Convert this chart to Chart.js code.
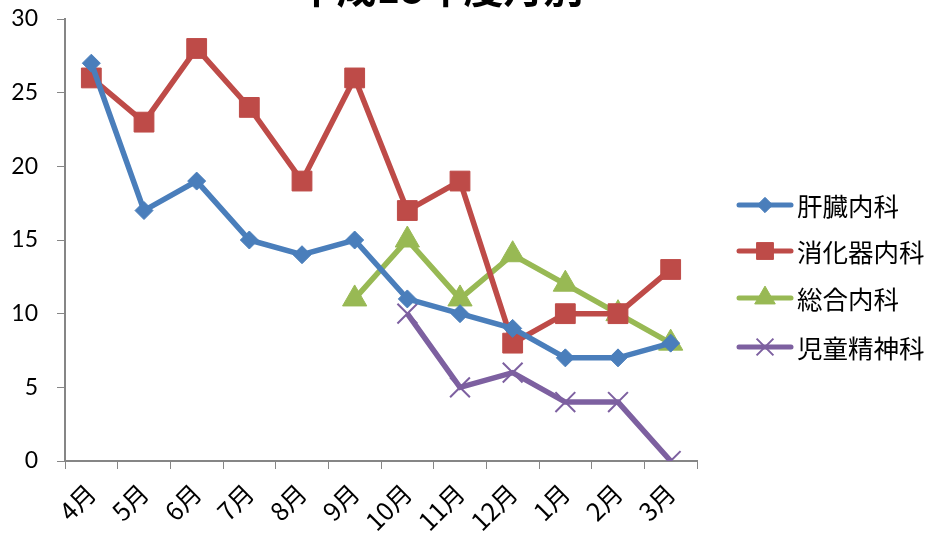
<!DOCTYPE html>
<html>
<head>
<meta charset="utf-8">
<script src="https://cdn.jsdelivr.net/npm/chart.js@4/dist/chart.umd.min.js"></script>
<style>
  html, body { margin: 0; padding: 0; background: #fff; }
  #chart { display: block; }
</style>
</head>
<body>
<canvas id="chart" width="931" height="535"></canvas>
<script>
// data
const months = ['4月', '5月', '6月', '7月', '8月', '9月', '10月', '11月', '12月', '1月', '2月', '3月'];
const liver = [27, 17, 19, 15, 14, 15, 11, 10, 9, 7, 7, 8];
const gastro = [26, 23, 28, 24, 19, 26, 17, 19, 8, 10, 10, 13];
const general = [null, null, null, null, null, 11, 15, 11, 14, 12, 10, 8];
const childPsych = [null, null, null, null, null, null, 10, 5, 6, 4, 4, 0];
const yTicks = [0, 5, 10, 15, 20, 25, 30];
const chartTitle = '平成18年度月別';

const seriesNames = ['肝臓内科', '消化器内科', '総合内科', '児童精神科'];
const colors = ['#4A7EBB', '#BE4B48', '#98B954', '#7D60A0'];
const markers = ['rectRot', 'rect', 'triangle', 'crossRot'];
const markerSize = [9, 14, 14, 14];

const cjk = '"Noto Sans CJK JP", sans-serif';
const num = 'Lato, "Open Sans", sans-serif';

// title sits mostly above the canvas, only its bottom shows
const titlePlugin = {
  id: 'cutTitle',
  afterDraw(chart) {
    const ctx = chart.ctx;
    ctx.save();
    ctx.fillStyle = '#000';
    ctx.font = 'bold 40px ' + cjk;
    ctx.textAlign = 'center';
    ctx.textBaseline = 'alphabetic';
    ctx.fillText(chartTitle, 440, 3);
    ctx.restore();
  }
};

// legend in the Excel way: line with a marker on it
const legendPlugin = {
  id: 'lineLegend',
  afterDraw(chart) {
    const ctx = chart.ctx;
    const ys = [205, 251, 298, 347];
    seriesNames.forEach((name, i) => {
      const y = ys[i];
      ctx.save();
      ctx.strokeStyle = colors[i];
      ctx.lineWidth = 5;
      ctx.lineCap = 'round';
      ctx.beginPath();
      ctx.moveTo(739, y);
      ctx.lineTo(791, y);
      ctx.stroke();
      ctx.restore();
      ctx.save();
      ctx.fillStyle = colors[i];
      ctx.strokeStyle = colors[i];
      ctx.lineWidth = i === 3 ? 2 : 1;
      Chart.helpers.drawPoint(ctx, {
        pointStyle: markers[i],
        radius: markerSize[i] * 0.85,
        rotation: 0,
        borderWidth: ctx.lineWidth
      }, 765, y);
      ctx.restore();
      ctx.save();
      ctx.fillStyle = '#000';
      ctx.font = '25.5px ' + cjk;
      ctx.textAlign = 'left';
      ctx.textBaseline = 'middle';
      ctx.fillText(name, 797, y + 1);
      ctx.restore();
    });
  }
};

const datasets = [liver, gastro, general, childPsych].map((vals, i) => ({
  label: seriesNames[i],
  data: vals,
  borderColor: colors[i],
  backgroundColor: colors[i],
  borderWidth: 5.5,
  pointStyle: markers[i],
  pointRadius: markerSize[i],
  pointHoverRadius: markerSize[i],
  pointBorderWidth: i === 3 ? 2 : 1,
  pointBackgroundColor: colors[i],
  pointBorderColor: colors[i],
  tension: 0,
  spanGaps: false
}));

new Chart(document.getElementById('chart'), {
  type: 'line',
  data: { labels: months, datasets },
  options: {
    responsive: false,
    animation: false,
    layout: { padding: { top: 19, right: 234, bottom: 0, left: 0 } },
    plugins: {
      legend: { display: false },
      title: { display: false },
      tooltip: { enabled: false }
    },
    scales: {
      x: {
        offset: true,
        grid: {
          offset: true,
          drawOnChartArea: false,
          drawTicks: true,
          tickLength: 8,
          color: '#868686'
        },
        border: { color: '#868686', width: 2 },
        ticks: {
          minRotation: 45,
          maxRotation: 45,
          autoSkip: false,
          color: '#000',
          font: { family: cjk, size: 25 },
          padding: 9
        },
        afterFit(scale) { scale.height = 74; }
      },
      y: {
        min: 0,
        max: 30,
        afterBuildTicks(scale) { scale.ticks = yTicks.map(v => ({ value: v })); },
        grid: {
          drawOnChartArea: false,
          drawTicks: true,
          tickLength: 8,
          color: '#868686'
        },
        border: { color: '#868686', width: 2 },
        ticks: {
          color: '#000',
          font: { family: num, size: 23 },
          padding: 19
        },
        afterFit(scale) {
          scale.width = 65;
          scale.paddingTop = 0;
          scale.paddingBottom = 0;
        }
      }
    }
  },
  plugins: [titlePlugin, legendPlugin]
});
</script>
</body>
</html>
